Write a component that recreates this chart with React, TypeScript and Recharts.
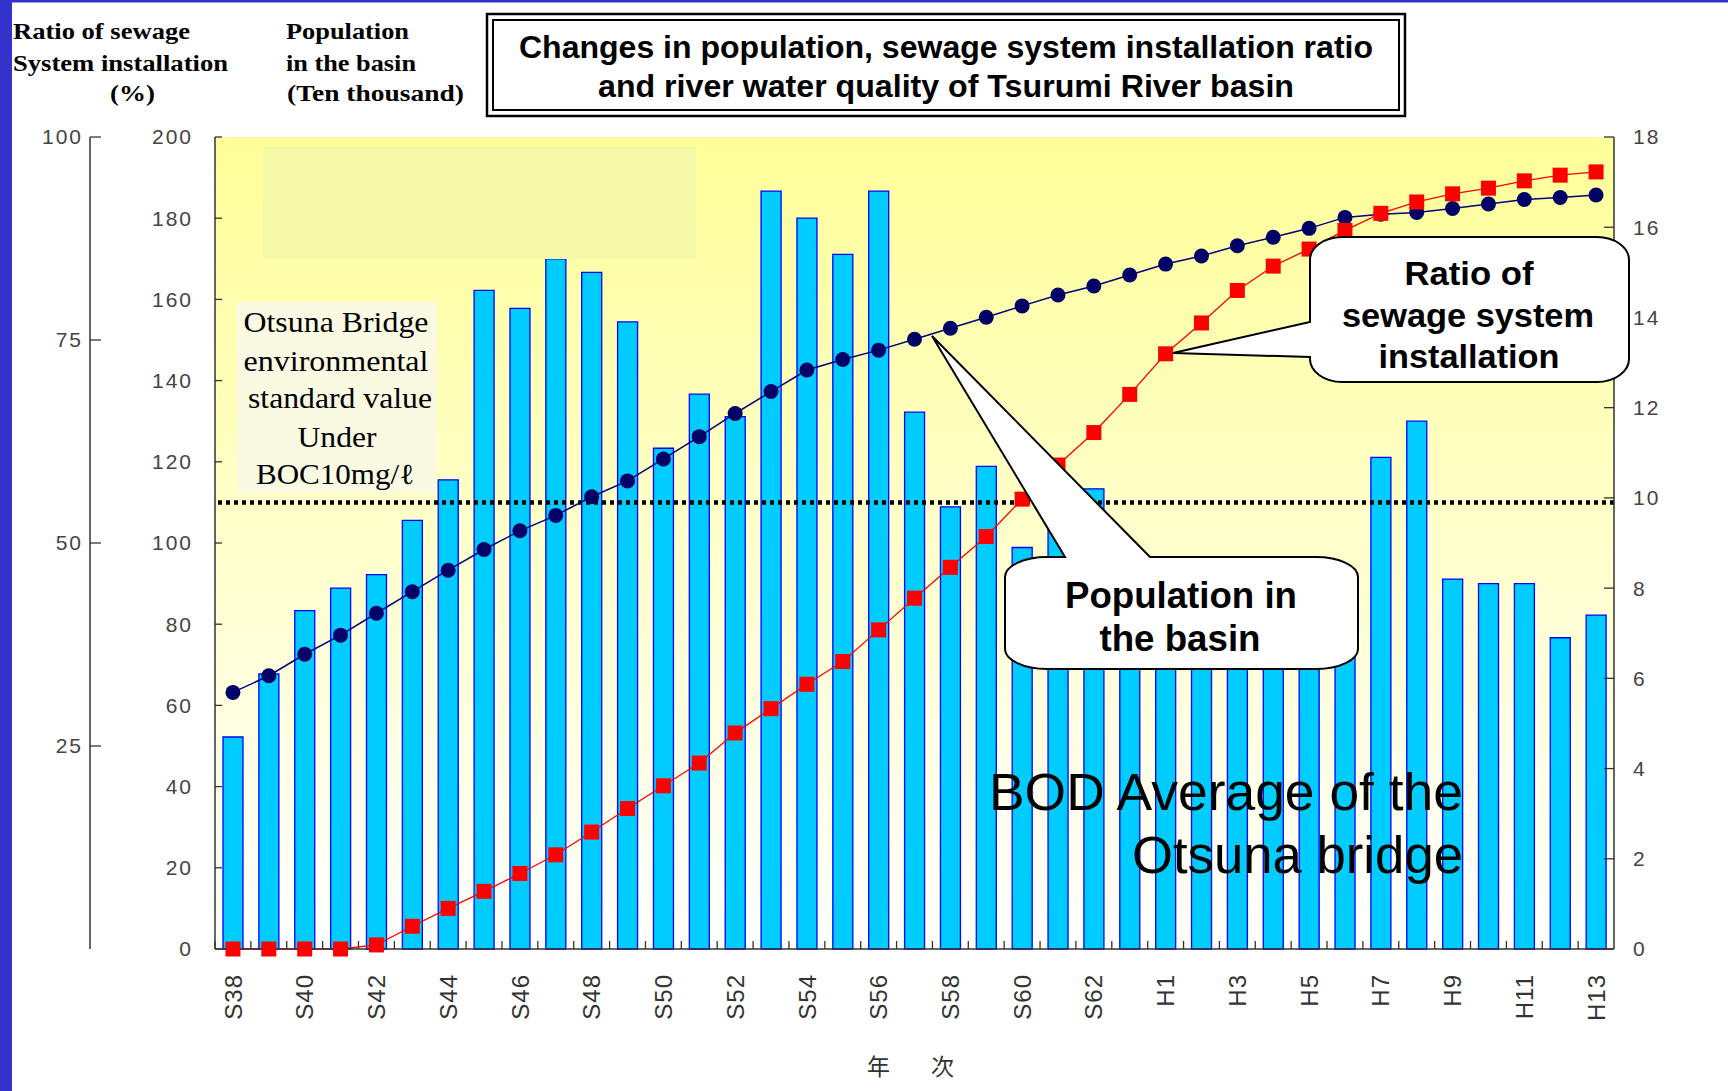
import React from 'react';
import {
  ComposedChart,
  Bar,
  Line,
  XAxis,
  YAxis,
  CartesianGrid,
  ReferenceLine,
} from 'recharts';

const years = [
  'S38', 'S39', 'S40', 'S41', 'S42', 'S43', 'S44', 'S45', 'S46', 'S47',
  'S48', 'S49', 'S50', 'S51', 'S52', 'S53', 'S54', 'S55', 'S56', 'S57',
  'S58', 'S59', 'S60', 'S61', 'S62', 'S63', 'H1', 'H2', 'H3', 'H4',
  'H5', 'H6', 'H7', 'H8', 'H9', 'H10', 'H11', 'H12', 'H13',
];

// BOD average at Otsuna bridge (mg/l), right axis
const bodValues = [
  4.7, 6.1, 7.5, 8.0, 8.3, 9.5, 10.4, 14.6, 14.2, 15.3,
  15.0, 13.9, 11.1, 12.3, 11.8, 16.8, 16.2, 15.4, 16.8, 11.9,
  9.8, 10.7, 8.9, 9.7, 10.2, 8.6, 8.3, 8.0, 8.2, 7.9,
  7.6, 7.8, 10.9, 11.7, 8.2, 8.1, 8.1, 6.9, 7.4,
];

// population in the basin (ten thousand)
const population = [
  63.2, 67.3, 72.6, 77.3, 82.7, 88.0, 93.3, 98.4, 103.0, 106.8,
  111.4, 115.3, 120.7, 126.2, 131.9, 137.3, 142.6, 145.2, 147.5, 150.2,
  152.9, 155.6, 158.4, 161.1, 163.3, 166.0, 168.7, 170.7, 173.2, 175.3,
  177.5, 180.2, 181.0, 181.4, 182.4, 183.5, 184.6, 185.1, 185.7,
];

// sewage system installation ratio (%)
const sewageRatio = [
  0, 0, 0, 0, 0.5, 2.8, 5.0, 7.1, 9.3, 11.6,
  14.4, 17.3, 20.1, 22.9, 26.6, 29.6, 32.6, 35.4, 39.3, 43.2,
  47.0, 50.8, 55.4, 59.6, 63.6, 68.3, 73.3, 77.1, 81.1, 84.1,
  86.2, 88.5, 90.6, 92.0, 93.0, 93.7, 94.6, 95.3, 95.7,
];

const popTicks = [0, 20, 40, 60, 80, 100, 120, 140, 160, 180, 200];
const bodTicks = [0, 2, 4, 6, 8, 10, 12, 14, 16, 18];
const ratioTicks = [25, 50, 75, 100];
const BOD_STANDARD = 9.9;

const data = years.map((year, i) => ({
  year,
  bod: bodValues[i],
  pop: population[i],
  ratio: sewageRatio[i],
}));

const W = 1728;
const H = 1091;
const MARGIN = { top: 137, right: 54, bottom: 62, left: 30 };
const POP_W = 125;
const RATIO_W = 60;
const BOD_W = 60;
const PLOT_W = W - MARGIN.left - MARGIN.right - POP_W - RATIO_W - BOD_W;
const BAND = PLOT_W / years.length;

const SANS = "'Liberation Sans', Arial, sans-serif";
const SERIF = "'Liberation Serif', 'Times New Roman', serif";
const axisTick = { fontSize: 21, fill: '#444', fontFamily: SANS, letterSpacing: 2 };

const XTick = (props: any) => {
  const { x, y, payload, index } = props;
  const ly = y + 25;
  return (
    <g>
      <line x1={x - BAND / 2} y1={y} x2={x - BAND / 2} y2={y - 8} stroke="#333" strokeWidth={1.3} />
      {index % 2 === 0 && (
        <text
          x={x}
          y={ly}
          transform={`rotate(-90, ${x}, ${ly})`}
          textAnchor="end"
          dy="0.36em"
          fontSize={24}
          fontFamily={SANS}
          fill="#333"
          letterSpacing={1}
        >
          {payload.value}
        </text>
      )}
    </g>
  );
};

const SquareDot = (props: any) => {
  const { cx, cy } = props;
  if (cx == null || cy == null) return <g />;
  return <rect x={cx - 7.5} y={cy - 7.5} width={15} height={15} fill="#FF0000" />;
};

const RoundDot = (props: any) => {
  const { cx, cy } = props;
  if (cx == null || cy == null) return <g />;
  return <circle cx={cx} cy={cy} r={7.5} fill="#000066" />;
};

const Annotations = () => (
  <svg
    width={W}
    height={H}
    style={{ position: 'absolute', left: 0, top: 0, pointerEvents: 'none' }}
  >
    <rect x={0} y={0} width={12} height={H} fill="#3333CC" />
    <rect x={0} y={0} width={W} height={2.5} fill="#3333CC" />

    <g fontFamily={SERIF} fontWeight="bold" fontSize={24} fill="#000">
      <text x={13} y={39} textLength={177} lengthAdjust="spacingAndGlyphs">Ratio of sewage</text>
      <text x={13} y={71} textLength={215} lengthAdjust="spacingAndGlyphs">System installation</text>
      <text x={110} y={101} textLength={45} lengthAdjust="spacingAndGlyphs">(%)</text>
      <text x={286} y={39} textLength={123} lengthAdjust="spacingAndGlyphs">Population</text>
      <text x={286} y={71} textLength={130} lengthAdjust="spacingAndGlyphs">in the basin</text>
      <text x={287} y={101} textLength={177} lengthAdjust="spacingAndGlyphs">(Ten thousand)</text>
    </g>

    <rect x={487} y={14} width={918} height={102} fill="#fff" stroke="#000" strokeWidth={2.5} />
    <rect x={493} y={20} width={906} height={90} fill="none" stroke="#000" strokeWidth={2} />
    <g fontFamily={SANS} fontWeight="bold" fontSize={31} fill="#000" textAnchor="middle">
      <text x={946} y={58} textLength={854} lengthAdjust="spacingAndGlyphs">
        Changes in population, sewage system installation ratio
      </text>
      <text x={946} y={97} textLength={696} lengthAdjust="spacingAndGlyphs">
        and river water quality of Tsurumi River basin
      </text>
    </g>

    {/* leftover pale box over the plot */}
    <rect x={263} y={147} width={433} height={112} fill="#F5F8A6" />

    <rect x={237} y={302} width={200} height={191} fill="#FAFAE3" />
    <g fontFamily={SERIF} fontSize={29} fill="#000" textAnchor="middle">
      <text x={336} y={332} textLength={185} lengthAdjust="spacingAndGlyphs">Otsuna Bridge</text>
      <text x={336} y={371} textLength={185} lengthAdjust="spacingAndGlyphs">environmental</text>
      <text x={340} y={408} textLength={184} lengthAdjust="spacingAndGlyphs">standard value</text>
      <text x={337} y={447} textLength={79} lengthAdjust="spacingAndGlyphs">Under</text>
      <text x={335} y={484} textLength={158} lengthAdjust="spacingAndGlyphs">BOC10mg/ℓ</text>
    </g>

    <g fontFamily={SANS} fontSize={51} fill="#000" textAnchor="end">
      <text x={1463} y={810} textLength={474} lengthAdjust="spacingAndGlyphs">BOD Average of the</text>
      <text x={1463} y={873} textLength={331} lengthAdjust="spacingAndGlyphs">Otsuna bridge</text>
    </g>

    <path
      d="M1342,237 H1597 A32,23 0 0 1 1629,260 V359 A32,23 0 0 1 1597,382 H1342 A32,23 0 0 1 1310,359 V357 L1173,353 L1310,322 V260 A32,23 0 0 1 1342,237 Z"
      fill="#fff"
      stroke="#000"
      strokeWidth={2}
    />
    <g fontFamily={SANS} fontWeight="bold" fontSize={33} fill="#000" textAnchor="middle">
      <text x={1469} y={285} textLength={129} lengthAdjust="spacingAndGlyphs">Ratio of</text>
      <text x={1468} y={327} textLength={252} lengthAdjust="spacingAndGlyphs">sewage system</text>
      <text x={1469} y={368} textLength={181} lengthAdjust="spacingAndGlyphs">installation</text>
    </g>

    <path
      d="M1047,557 H1065 L932,336 L1150,557 H1316 A42,20 0 0 1 1358,577 V649 A42,20 0 0 1 1316,669 H1047 A42,20 0 0 1 1005,649 V577 A42,20 0 0 1 1047,557 Z"
      fill="#fff"
      stroke="#000"
      strokeWidth={2}
    />
    <g fontFamily={SANS} fontWeight="bold" fontSize={36} fill="#000" textAnchor="middle">
      <text x={1181} y={608} textLength={232} lengthAdjust="spacingAndGlyphs">Population in</text>
      <text x={1180} y={651} textLength={161} lengthAdjust="spacingAndGlyphs">the basin</text>
    </g>

    <text
      x={867}
      y={1075}
      fontFamily="'Noto Sans CJK JP', sans-serif"
      fontSize={23}
      fill="#333"
      letterSpacing={9}
    >
      年　次
    </text>
  </svg>
);

export default function App() {
  return (
    <div
      style={{
        position: 'absolute',
        left: 0,
        top: 0,
        width: W,
        height: H,
        background: '#fff',
        overflow: 'hidden',
      }}
    >
      <ComposedChart width={W} height={H} data={data} margin={MARGIN}>
        <defs>
          <linearGradient id="plotBg" x1="0" y1="0" x2="0" y2="1">
            <stop offset="0%" stopColor="#FFFF99" />
            <stop offset="100%" stopColor="#FFFFFF" />
          </linearGradient>
        </defs>
        <CartesianGrid yAxisId="pop" fill="url(#plotBg)" horizontal={false} vertical={false} />
        <XAxis
          dataKey="year"
          height={80}
          interval={0}
          tickSize={0}
          tickMargin={0}
          tickLine={false}
          tick={<XTick />}
          axisLine={{ stroke: '#333', strokeWidth: 1.5 }}
        />
        <XAxis
          xAxisId="top"
          dataKey="year"
          orientation="top"
          height={0}
          tick={false}
          tickLine={false}
          axisLine={{ stroke: '#333', strokeWidth: 1.5 }}
        />
        <YAxis
          yAxisId="pop"
          orientation="left"
          width={POP_W}
          domain={[0, 200]}
          ticks={popTicks}
          interval={0}
          tickSize={-7}
          tickMargin={29}
          tick={axisTick}
          tickLine={{ stroke: '#333', strokeWidth: 1.3 }}
          axisLine={{ stroke: '#333', strokeWidth: 1.5 }}
        />
        <YAxis
          yAxisId="ratio"
          orientation="left"
          width={RATIO_W}
          domain={[0, 100]}
          ticks={ratioTicks}
          interval={0}
          tickSize={-11}
          tickMargin={18}
          tick={axisTick}
          tickLine={{ stroke: '#333', strokeWidth: 1.3 }}
          axisLine={{ stroke: '#333', strokeWidth: 1.5 }}
        />
        <YAxis
          yAxisId="bod"
          orientation="right"
          width={BOD_W}
          domain={[0, 18]}
          ticks={bodTicks}
          interval={0}
          tickSize={-10}
          tickMargin={29}
          tick={{ ...axisTick, textAnchor: 'start' }}
          tickLine={{ stroke: '#333', strokeWidth: 1.3 }}
          axisLine={{ stroke: '#333', strokeWidth: 1.5 }}
        />
        <Bar
          yAxisId="bod"
          dataKey="bod"
          barSize={20}
          fill="#00CCFF"
          stroke="#0000FF"
          strokeWidth={1.3}
          isAnimationActive={false}
        />
        <ReferenceLine
          yAxisId="bod"
          y={BOD_STANDARD}
          stroke="#000"
          strokeWidth={4.5}
          strokeDasharray="4 4"
        />
        <Line
          yAxisId="pop"
          dataKey="pop"
          type="linear"
          stroke="#000080"
          strokeWidth={1.5}
          dot={<RoundDot />}
          isAnimationActive={false}
        />
        <Line
          yAxisId="ratio"
          dataKey="ratio"
          type="linear"
          stroke="#FF0000"
          strokeWidth={1.3}
          dot={<SquareDot />}
          isAnimationActive={false}
        />
      </ComposedChart>
      <Annotations />
    </div>
  );
}
